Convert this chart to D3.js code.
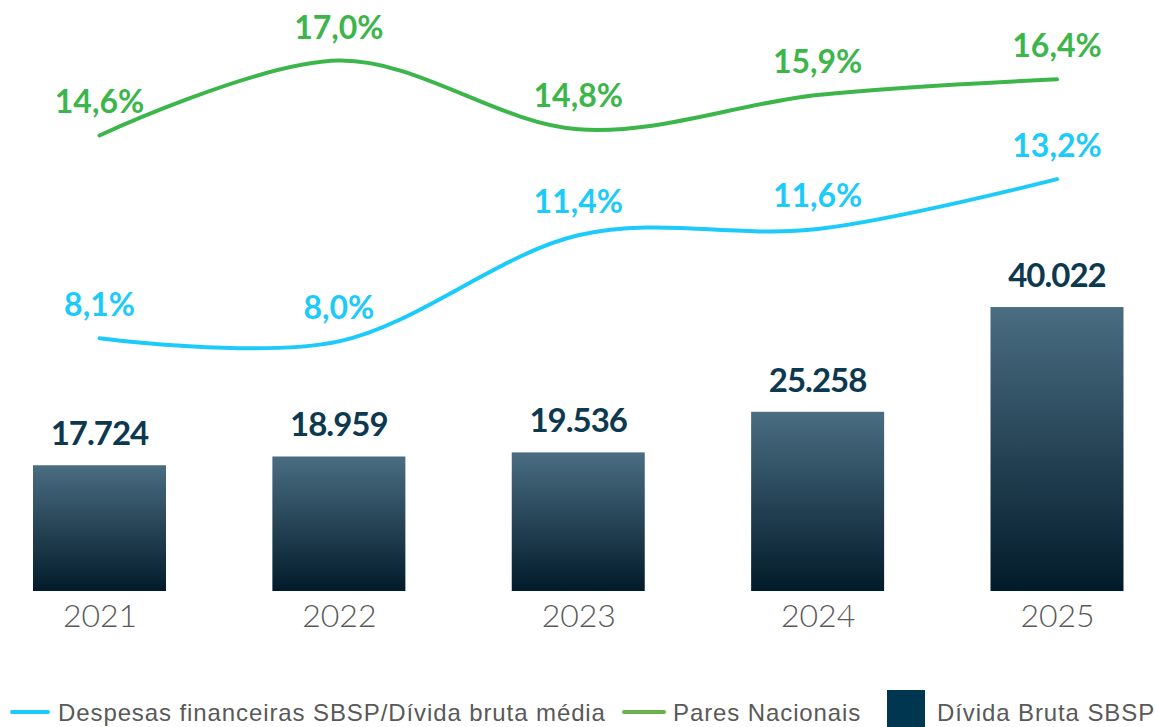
<!DOCTYPE html>
<html>
<head>
<meta charset="utf-8">
<script src="https://cdn.jsdelivr.net/npm/d3@7"></script>
<style>
  body { margin: 0; background: #fff; }
  svg { display: block; }
</style>
</head>
<body>
<div id="chart"></div>
<script>
// data
var years = ["2021", "2022", "2023", "2024", "2025"]
var dividaBruta = [17724, 18959, 19536, 25258, 40022]      // bars
var despesas = [8.1, 8.0, 11.4, 11.6, 13.2]                // cyan line, %
var pares = [14.6, 17.0, 14.8, 15.9, 16.4]                 // green line, %
var legendLabels = ["Despesas financeiras SBSP/Dívida bruta média", "Pares Nacionais", "Dívida Bruta SBSP"]

var width = 1156,
    height = 727,
    baseline = 591,
    barWidth = 133

var cyan = "#1ccbfa",
    green = "#3cb64b",
    navy = "#0d3950"

var svg = d3.select("#chart")
    .append("svg")
        .attr("width", width)
        .attr("height", height)

// bar gradient, light slate on top to almost black at the bottom
var grad = svg.append("defs").append("linearGradient")
    .attr("id", "barGrad")
    .attr("x1", 0).attr("y1", 0).attr("x2", 0).attr("y2", 1)
grad.append("stop").attr("offset", "0%").attr("stop-color", "#4a6d82")
grad.append("stop").attr("offset", "100%").attr("stop-color", "#021b2a")

var x = d3.scalePoint()
    .domain(years)
    .range([99.5, 1057])

var yBar = d3.scaleLinear()
    .domain([0, 40000])
    .range([baseline, 307.2])

var yPct = d3.scaleLinear()
    .domain([0, 17])
    .range([baseline, 60.6])

// bars
svg.selectAll("rect.bar")
    .data(dividaBruta)
    .enter()
    .append("rect")
        .attr("class", "bar")
        .attr("x", function(d, i) { return x(years[i]) - barWidth / 2 })
        .attr("y", function(d) { return yBar(d) })
        .attr("width", barWidth)
        .attr("height", function(d) { return baseline - yBar(d) })
        .attr("fill", "url(#barGrad)")

svg.selectAll("text.barlabel")
    .data(dividaBruta)
    .enter()
    .append("text")
        .attr("class", "barlabel")
        .attr("x", function(d, i) { return x(years[i]) })
        .attr("y", function(d) { return yBar(d) - 20 })
        .attr("text-anchor", "middle")
        .attr("font-family", "Lato")
        .attr("font-weight", 700)
        .attr("font-size", "33px")
        .attr("letter-spacing", "-1px")
        .attr("fill", navy)
        .text(function(d) { return d3.format(",")(d).replace(",", ".") })

// x axis labels (no line, no ticks)
var xAxis = svg.append("g")
    .attr("transform", "translate(0," + baseline + ")")
    .call(d3.axisBottom(x).tickSize(0).tickPadding(13))
xAxis.select(".domain").remove()
xAxis.selectAll("text")
    .attr("dy", "0.71em")
    .attr("font-family", "Lato")
    .attr("font-weight", 300)
    .attr("font-size", "32px")
    .attr("fill", "#595959")

// smoothed lines
var line = d3.line()
    .x(function(d, i) { return x(years[i]) })
    .y(function(d) { return yPct(d) })
    .curve(d3.curveCatmullRom.alpha(0))

function drawSeries(values, color) {
    svg.append("path")
        .datum(values)
        .attr("d", line)
        .attr("fill", "none")
        .attr("stroke", color)
        .attr("stroke-width", 4)
        .attr("stroke-linecap", "round")

    svg.selectAll(null)
        .data(values)
        .enter()
        .append("text")
            .attr("x", function(d, i) { return x(years[i]) })
            .attr("y", function(d) { return yPct(d) - 22 })
            .attr("text-anchor", "middle")
            .attr("font-family", "Lato")
            .attr("font-weight", 700)
            .attr("font-size", "32px")
            .attr("fill", color)
            .text(function(d) { return d.toFixed(1).replace(".", ",") + "%" })
}

drawSeries(pares, green)
drawSeries(despesas, cyan)

// legend
var legend = svg.append("g")
    .attr("font-family", "Liberation Sans, Arial, sans-serif")
    .attr("font-size", "24px")
    .attr("letter-spacing", "0.9px")
    .attr("fill", "#595959")

legend.append("line")
    .attr("x1", 12).attr("x2", 48).attr("y1", 712).attr("y2", 712)
    .attr("stroke", cyan).attr("stroke-width", 4).attr("stroke-linecap", "round")
legend.append("text").attr("x", 58).attr("y", 721).text(legendLabels[0])

legend.append("line")
    .attr("x1", 624).attr("x2", 664).attr("y1", 712).attr("y2", 712)
    .attr("stroke", "#6aaf4a").attr("stroke-width", 4).attr("stroke-linecap", "round")
legend.append("text").attr("x", 673).attr("y", 721).text(legendLabels[1])

legend.append("rect")
    .attr("x", 887).attr("y", 690).attr("width", 38).attr("height", 38)
    .attr("fill", "#003650")
legend.append("text").attr("x", 937).attr("y", 721).text(legendLabels[2])
</script>
</body>
</html>
